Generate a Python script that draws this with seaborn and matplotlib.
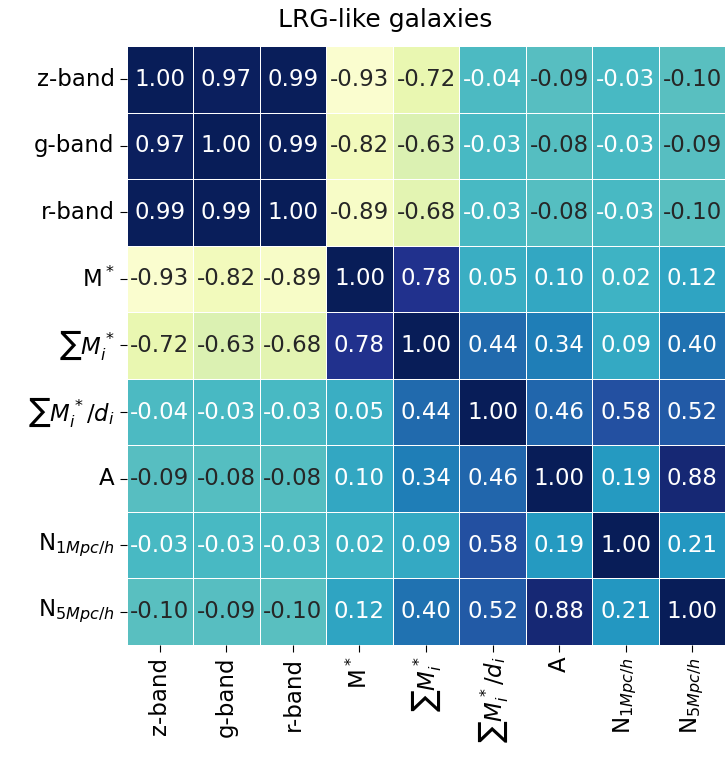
import numpy as np
import pandas as pd
import matplotlib
matplotlib.use("Agg")
import matplotlib.pyplot as plt
import seaborn as sns

labels = [
    "z-band", "g-band", "r-band", r"M$^*$", r"$\sum M_i^*$",
    r"$\sum M_i^*/d_i$", "A", r"N$_{1Mpc/h}$", r"N$_{5Mpc/h}$",
]

z_band   = [1.00, 0.97, 0.99, -0.93, -0.72, -0.04, -0.09, -0.03, -0.10]
g_band   = [0.97, 1.00, 0.99, -0.82, -0.63, -0.03, -0.08, -0.03, -0.09]
r_band   = [0.99, 0.99, 1.00, -0.89, -0.68, -0.03, -0.08, -0.03, -0.10]
m_star   = [-0.93, -0.82, -0.89, 1.00, 0.78, 0.05, 0.10, 0.02, 0.12]
sum_m    = [-0.72, -0.63, -0.68, 0.78, 1.00, 0.44, 0.34, 0.09, 0.40]
sum_m_d  = [-0.04, -0.03, -0.03, 0.05, 0.44, 1.00, 0.46, 0.58, 0.52]
asym     = [-0.09, -0.08, -0.08, 0.10, 0.34, 0.46, 1.00, 0.19, 0.88]
n_1mpc   = [-0.03, -0.03, -0.03, 0.02, 0.09, 0.58, 0.19, 1.00, 0.21]
n_5mpc   = [-0.10, -0.09, -0.10, 0.12, 0.40, 0.52, 0.88, 0.21, 1.00]

corr = pd.DataFrame(
    [z_band, g_band, r_band, m_star, sum_m, sum_m_d, asym, n_1mpc, n_5mpc],
    index=labels, columns=labels,
)

fig = plt.figure(figsize=(7.27, 7.63), dpi=100)
ax = fig.add_axes([0.172, 0.1547, 0.828, 0.785])

sns.heatmap(
    corr, ax=ax, cmap="YlGnBu", vmin=-1, vmax=1, annot=True, fmt=".2f",
    annot_kws={"fontsize": 16.5}, linewidths=0.7, linecolor="white",
    cbar=False, square=True,
)

ax.set_title("LRG-like galaxies", fontsize=18, pad=14, x=0.432)
ax.tick_params(axis="both", labelsize=16.5, length=5)
ax.set_xticklabels(labels, rotation=90)
ax.set_yticklabels(labels, rotation=0)

fig.savefig("out.png", dpi=100)
